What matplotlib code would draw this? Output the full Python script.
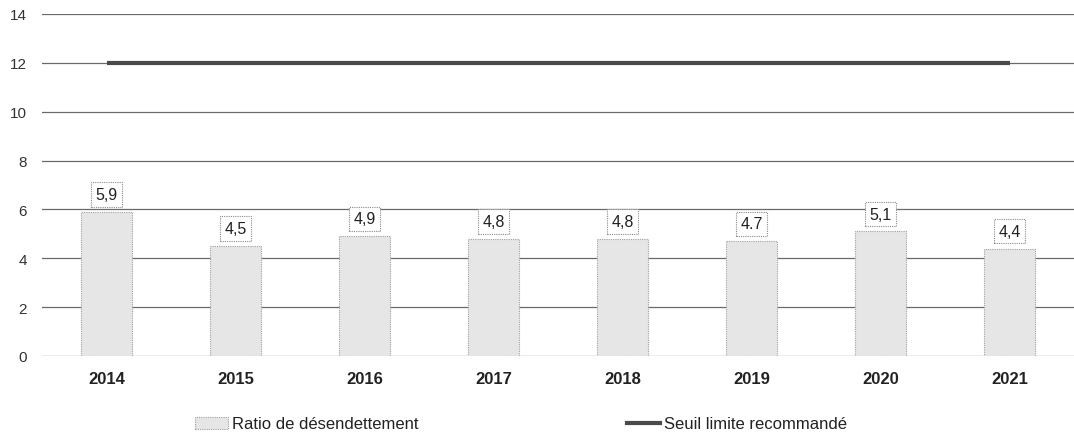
import matplotlib
matplotlib.use("Agg")
import matplotlib.pyplot as plt
from matplotlib.lines import Line2D
from matplotlib.patches import Patch

years = ["2014", "2015", "2016", "2017", "2018", "2019", "2020", "2021"]
ratio = [5.9, 4.5, 4.9, 4.8, 4.8, 4.7, 5.1, 4.4]
ratio_labels = ["5,9", "4,5", "4,9", "4,8", "4,8", "4.7", "5,1", "4,4"]
threshold = [12, 12, 12, 12, 12, 12, 12, 12]
yticks = [0, 2, 4, 6, 8, 10, 12, 14]

plt.rcParams["font.family"] = ["Liberation Sans", "DejaVu Sans"]

fig = plt.figure(figsize=(10.74, 4.39), dpi=100)
ax = fig.add_axes([42 / 1074, 1 - 357 / 439, 1 - 42 / 1074, (357 - 15) / 439])

x = list(range(len(years)))
ax.set_xlim(-0.5, len(years) - 0.5)
ax.set_ylim(0, 14)

for t in yticks:
    ax.axhline(t, color="#6a6a6a", lw=0.9, zorder=1)

ax.bar(x, ratio, width=0.4, color="#e6e6e6", edgecolor="#a0a0a0",
       linewidth=0.8, linestyle=(0, (1, 1)), zorder=2)

ax.plot(x, threshold, color="#4a4a4a", lw=3, zorder=3, solid_capstyle="butt")

for xi, v, lab in zip(x, ratio, ratio_labels):
    ax.annotate(lab, (xi, v), xytext=(0, 12.5), textcoords="offset points",
                ha="center", va="center", fontsize=11.5, color="#222222",
                bbox=dict(boxstyle="square,pad=0.3", fc="white", ec="#8a8a8a",
                          lw=0.8, ls=(0, (1, 1))), zorder=4)

for s in ax.spines.values():
    s.set_visible(False)

ax.set_yticks(yticks)
ax.set_yticklabels([str(t) for t in yticks], fontsize=11, color="#333333")
ax.set_xticks(x)
ax.set_xticklabels(years, fontsize=12, color="#222222", fontweight="bold")
ax.tick_params(axis="both", length=0)
ax.tick_params(axis="y", pad=11)
ax.tick_params(axis="x", pad=11)

handles = [Patch(facecolor="#e6e6e6", edgecolor="#a0a0a0", lw=0.8, ls=(0, (1, 1))),
           Line2D([0], [0], color="#4a4a4a", lw=3)]
fig.legend(handles, ["Ratio de désendettement", "Seuil limite recommandé"],
           loc="center", bbox_to_anchor=(521 / 1074, 1 - 425 / 439), ncol=2,
           frameon=False, fontsize=12, columnspacing=12.5, handlelength=2.0,
           handletextpad=0.25, labelcolor="#222222")

fig.savefig("out.png", dpi=100)
